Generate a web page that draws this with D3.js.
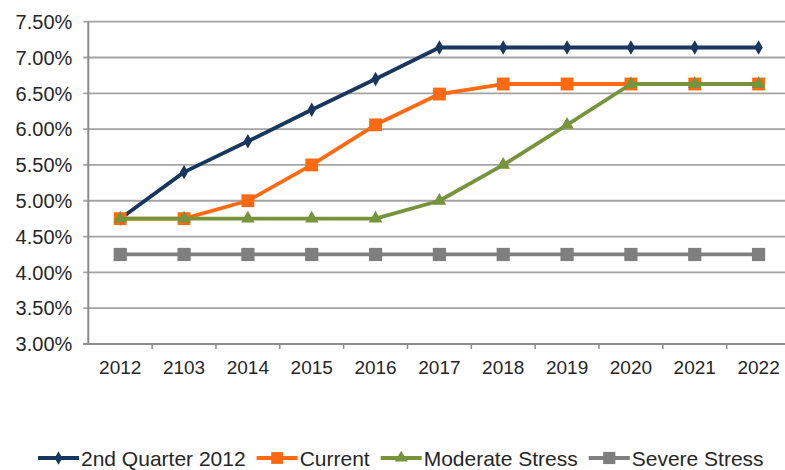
<!DOCTYPE html>
<html>
<head>
<meta charset="utf-8">
<script src="https://cdn.jsdelivr.net/npm/d3@7"></script>
<style>
  body { margin: 0; background: #fff; }
  text { font-family: "Liberation Sans", Arial, sans-serif; fill: #262626; }
</style>
</head>
<body>
<div id="chart"></div>
<script>
// chart values
const years = ["2012", "2103", "2014", "2015", "2016", "2017", "2018", "2019", "2020", "2021", "2022"];
const secondQuarter2012 = [4.75, 5.40, 5.83, 6.27, 6.70, 7.14, 7.14, 7.14, 7.14, 7.14, 7.14];
const current = [4.75, 4.75, 5.00, 5.50, 6.06, 6.49, 6.63, 6.63, 6.63, 6.63, 6.63];
const moderateStress = [4.75, 4.75, 4.75, 4.75, 4.75, 5.00, 5.50, 6.06, 6.63, 6.63, 6.63];
const severeStress = [4.25, 4.25, 4.25, 4.25, 4.25, 4.25, 4.25, 4.25, 4.25, 4.25, 4.25];
const yTicks = [3.0, 3.5, 4.0, 4.5, 5.0, 5.5, 6.0, 6.5, 7.0, 7.5];

const series = [
  {name: "2nd Quarter 2012", values: secondQuarter2012, color: "#17375e", symbol: d3.symbolDiamond, size: 60},
  {name: "Current", values: current, color: "#ff6a10", symbol: d3.symbolSquare, size: 165},
  {name: "Moderate Stress", values: moderateStress, color: "#77933c", symbol: d3.symbolTriangle, size: 80},
  {name: "Severe Stress", values: severeStress, color: "#7f7f7f", symbol: d3.symbolSquare, size: 175}
];

// set the dimensions and margins of the graph
const W = 785, H = 470;
const margin = {top: 21.7, left: 88.3},
    width = 702.2,
    height = 322.3;

const svg = d3.select("#chart")
  .append("svg")
    .attr("width", W)
    .attr("height", H);

const g = svg.append("g")
    .attr("transform", `translate(${margin.left}, ${margin.top})`);

const x = d3.scaleBand()
  .domain(years)
  .range([0, width])
  .padding(0);

const y = d3.scaleLinear()
  .domain([3, 7.5])
  .range([height, 0]);

// gridlines + left tick stubs
g.append("g")
  .selectAll("line")
  .data(yTicks)
  .enter()
  .append("line")
    .attr("x1", -5)
    .attr("x2", width)
    .attr("y1", d => y(d))
    .attr("y2", d => y(d))
    .attr("stroke", "#a3a3a3")
    .attr("stroke-width", 1.8);

// Y labels
g.append("g")
  .selectAll("text")
  .data(yTicks)
  .enter()
  .append("text")
    .attr("x", -16)
    .attr("y", d => y(d))
    .attr("dy", "0.36em")
    .attr("text-anchor", "end")
    .style("font-size", "20px")
    .text(d => d3.format(".2f")(d) + "%");

// Y axis line
g.append("line")
  .attr("x1", 0).attr("x2", 0)
  .attr("y1", 0).attr("y2", height)
  .attr("stroke", "#8c8c8c")
  .attr("stroke-width", 2);

// X axis
const xAxis = g.append("g")
  .attr("transform", `translate(0, ${height})`);
xAxis.append("line")
  .attr("x1", -5).attr("x2", width)
  .attr("stroke", "#8c8c8c")
  .attr("stroke-width", 2);
xAxis.selectAll("line.tk")
  .data(years)
  .enter()
  .append("line")
    .attr("class", "tk")
    .attr("x1", d => x(d) + x.bandwidth())
    .attr("x2", d => x(d) + x.bandwidth())
    .attr("y1", 0)
    .attr("y2", 5)
    .attr("stroke", "#8c8c8c")
    .attr("stroke-width", 1.5);
xAxis.selectAll("text")
  .data(years)
  .enter()
  .append("text")
    .attr("x", d => x(d) + x.bandwidth() / 2)
    .attr("y", 30)
    .attr("text-anchor", "middle")
    .style("font-size", "19px")
    .text(d => d);

// lines and markers
const line = d3.line()
  .x((d, i) => x(years[i]) + x.bandwidth() / 2)
  .y(d => y(d));

series.forEach(s => {
  g.append("path")
    .datum(s.values)
    .attr("fill", "none")
    .attr("stroke", s.color)
    .attr("stroke-width", 3.8)
    .attr("stroke-linejoin", "round")
    .attr("d", line);
  g.selectAll(null)
    .data(s.values)
    .enter()
    .append("path")
      .attr("transform", (d, i) => `translate(${x(years[i]) + x.bandwidth() / 2}, ${y(d)})`)
      .attr("d", d3.symbol().type(s.symbol).size(s.size))
      .attr("fill", s.color);
});

// legend
const legend = svg.append("g").attr("transform", "translate(38, 0)");
let lx = 0;
const legendY = 458;
series.forEach(s => {
  const item = legend.append("g").attr("transform", `translate(${lx}, ${legendY})`);
  item.append("line")
    .attr("x1", 0).attr("x2", 41)
    .attr("stroke", s.color)
    .attr("stroke-width", 3.8);
  item.append("path")
    .attr("transform", "translate(20.5, 0)")
    .attr("d", d3.symbol().type(s.symbol).size(s.size * 0.85))
    .attr("fill", s.color);
  const t = item.append("text")
    .attr("x", 43)
    .attr("dy", "0.36em")
    .style("font-size", "21px")
    .text(s.name);
  lx += 43 + t.node().getComputedTextLength() + 11;
});
</script>
</body>
</html>
